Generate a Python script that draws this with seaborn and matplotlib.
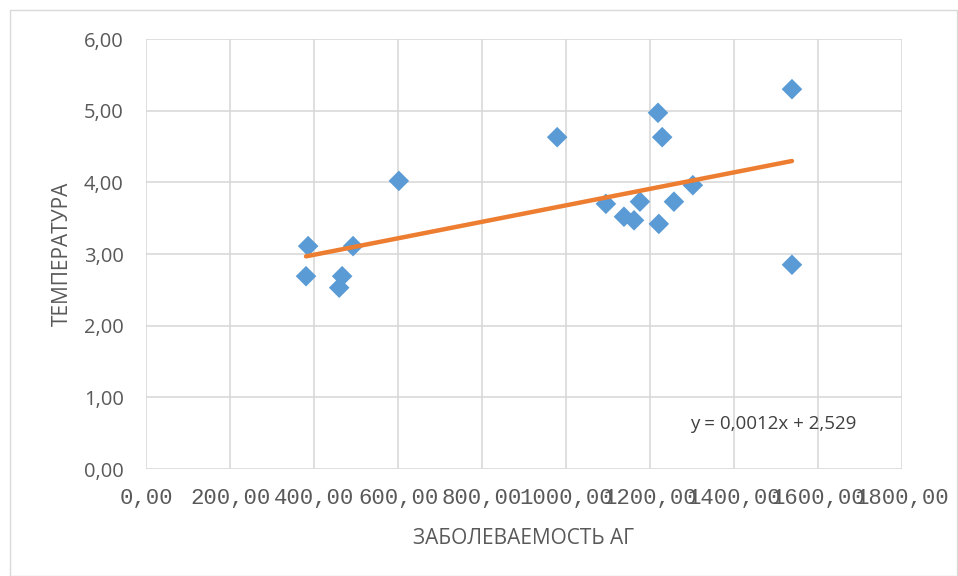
import numpy as np
import pandas as pd
import matplotlib
matplotlib.use("Agg")
import matplotlib.pyplot as plt
import seaborn as sns
from matplotlib.patches import Rectangle

incidence = [381, 386, 460, 467, 493, 602, 979, 1095, 1138, 1162, 1176, 1219, 1221, 1229, 1257, 1302, 1538, 1538]
temperature = [2.69, 3.11, 2.53, 2.69, 3.11, 4.02, 4.63, 3.70, 3.52, 3.47, 3.73, 4.97, 3.42, 4.63, 3.73, 3.96, 5.30, 2.85]
x_ticks = [0, 200, 400, 600, 800, 1000, 1200, 1400, 1600, 1800]
y_ticks = [0, 1, 2, 3, 4, 5, 6]
slope, intercept = 0.00115, 2.529
equation = "y = 0,0012x + 2,529"
x_label = "ЗАБОЛЕВАЕМОСТЬ АГ"
y_label = "ТЕМПЕРАТУРА"

sns.set_style("white")
plt.rcParams['font.family'] = ['Open Sans', 'DejaVu Sans']

df = pd.DataFrame({"x": incidence, "y": temperature})

fig = plt.figure(figsize=(9.58, 5.76), dpi=100)
fig.patches.append(Rectangle((10/958, 0.0), 947/958, 1 - 10/576, transform=fig.transFigure,
                             fill=False, edgecolor="#D9D9D9", linewidth=1))
ax = fig.add_axes([146/958, 1 - 469/576, 756/958, 430/576])

xs = np.array([min(incidence), max(incidence)])
ax.plot(xs, intercept + slope * xs, color="#ED7D31", linewidth=3.2, solid_capstyle="round", zorder=3)
sns.scatterplot(data=df, x="x", y="y", marker="D", s=110, color="#5B9BD5", edgecolor="none", ax=ax, zorder=2)

ax.set_xlim(0, 1800)
ax.set_ylim(0, 6)
ax.set_xticks(x_ticks)
ax.set_xticklabels([f"{v:.2f}".replace(".", ",") for v in x_ticks], fontsize=16,
                   color="#595959", family=["Liberation Mono", "DejaVu Sans Mono"])
ax.set_yticks(y_ticks)
ax.set_yticklabels([f"{v:.2f}".replace(".", ",") for v in y_ticks], fontsize=14.5, color="#595959")
ax.grid(True, color="#D9D9D9", linewidth=1.2)
ax.set_axisbelow(True)
for s in ax.spines.values():
    s.set_visible(False)
ax.tick_params(axis="x", length=0, pad=14)
ax.tick_params(axis="y", length=0, pad=16)
ax.set_xlabel(x_label, fontsize=15, color="#595959", labelpad=13)
ax.set_ylabel(y_label, fontsize=15, color="#595959", labelpad=8)
ax.text(1295, 0.63, equation, fontsize=13.5, color="#404040", va="center", ha="left")

fig.savefig("out.png", dpi=100)
